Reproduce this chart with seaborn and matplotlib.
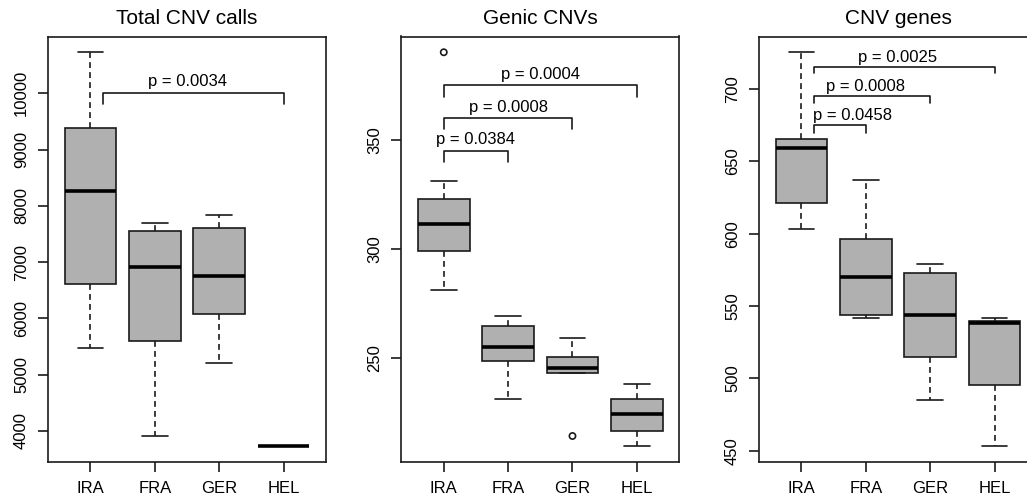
import numpy as np
import pandas as pd
import matplotlib
matplotlib.use("Agg")
import matplotlib.pyplot as plt
import seaborn as sns

# Box stats: [low whisker, Q1, median, Q3, high whisker]
groups = ["IRA", "FRA", "GER", "HEL"]

calls_ira = [5480, 6607, 8267, 9388, 10730]
calls_fra = [3915, 5593, 6915, 7550, 7687]
calls_ger = [5206, 6085, 6749, 7609, 7835]
calls_hel = [3728, 3728, 3728, 3728, 3728]

genic_ira = [281.1, 299.2, 311.4, 322.8, 331.2]
genic_fra = [231.0, 248.5, 255.0, 264.6, 269.2]
genic_ger = [243.2, 243.2, 245.4, 250.5, 259.0]
genic_hel = [209.4, 216.5, 224.1, 231.2, 238.2]
genic_out_groups = ["IRA", "GER"]
genic_out_values = [390.3, 214.1]

genes_ira = [603.4, 621.5, 659.1, 665.3, 725.3]
genes_fra = [541.7, 543.8, 570.0, 596.5, 637.2]
genes_ger = [484.8, 514.6, 543.8, 572.8, 579.0]
genes_hel = [453.2, 495.7, 538.3, 539.8, 541.6]

titles = ["Total CNV calls", "Genic CNVs", "CNV genes"]
yticks = [np.arange(4000, 10001, 1000), [250, 300, 350], np.arange(450, 701, 50)]

# p-value comparisons (IRA vs others)
p_calls = ["p = 0.0034"]
p_genic = ["p = 0.0384", "p = 0.0008", "p = 0.0004"]
p_genes = ["p = 0.0458", "p = 0.0008", "p = 0.0025"]

# bracket geometry: (x start, x end, top, leg bottom, text x, text baseline)
br_calls = [(0.2, 3, 10010, 9810, 1.5, 10130)]
br_genic = [(0, 1, 345.1, 340.0, 0.5, 348.0),
            (0, 2, 360.2, 355.0, 1.0, 362.9),
            (0, 3, 375.1, 369.9, 1.5, 377.9)]
br_genes = [(0.2, 1, 675.2, 669.8, 0.8, 678.6),
            (0.2, 2, 695.0, 690.1, 1.0, 698.6),
            (0.2, 3, 715.4, 710.8, 1.5, 718.6)]

sns.set_style("ticks")
plt.rcParams["font.family"] = ["Liberation Sans", "DejaVu Sans"]
plt.rcParams["text.color"] = "black"
plt.rcParams["xtick.color"] = "black"
plt.rcParams["ytick.color"] = "black"
plt.rcParams["xtick.labelcolor"] = "black"
plt.rcParams["ytick.labelcolor"] = "black"

W, H = 1027, 501
fig = plt.figure(figsize=(W / 100, H / 100), dpi=100)

# axes boxes in pixels: left, right (top/bottom shared)
px = [(48, 326), (401.3, 679.3), (759, 1037)]
top, bottom = 36.5, 462

panels = [
    ([calls_ira, calls_fra, calls_ger, calls_hel], [], [], p_calls, br_calls),
    ([genic_ira, genic_fra, genic_ger, genic_hel], genic_out_groups, genic_out_values, p_genic, br_genic),
    ([genes_ira, genes_fra, genes_ger, genes_hel], [], [], p_genes, br_genes),
]

line_col = "#1a1a1a"
lw = 1.2

for i, (vals, out_g, out_v, plabs, brs) in enumerate(panels):
    l, r = px[i]
    ax = fig.add_axes([l / W, 1 - bottom / H, (r - l) / W, (bottom - top) / H])
    df = pd.DataFrame({"group": np.repeat(groups, 5), "value": np.concatenate(vals)})
    sns.boxplot(data=df, x="group", y="value", order=groups, ax=ax,
                color="#b0b0b0", saturation=1, width=0.8, linecolor=line_col,
                linewidth=lw, showfliers=False,
                whiskerprops={"linestyle": (0, (3.5, 2.5))},
                medianprops={"linewidth": 2.6, "color": "black"})
    if out_v:
        sns.stripplot(x=out_g, y=out_v, order=groups, ax=ax, jitter=False,
                      color="black", facecolor="none", edgecolor=line_col,
                      linewidth=lw, size=4.5, marker="o")

    allv = np.concatenate(vals + [out_v]) if out_v else np.concatenate(vals)
    lo, hi = allv.min(), allv.max()
    pad = 0.04 * (hi - lo)
    ax.set_ylim(lo - pad, hi + pad)
    ax.set_xlim(-0.66, 3.66)
    ax.set_yticks(yticks[i])
    ax.set_xlabel("")
    ax.set_ylabel("")
    ax.set_title(titles[i], fontsize=15, pad=9, color="black")

    for (x0, x1, yh, yl, tx, ty), lab in zip(brs, plabs):
        ax.plot([x0, x0, x1, x1], [yl, yh, yh, yl], color=line_col, lw=lw)
        ax.text(tx, ty, lab, ha="center", va="baseline", fontsize=12)

    ax.tick_params(length=7.2, width=lw, pad=6.5, labelsize=12, color=line_col)
    ax.tick_params(axis="y", labelrotation=90)
    for lab in ax.get_yticklabels():
        lab.set_va("center")
    for s in ax.spines.values():
        s.set_linewidth(lw)
        s.set_color(line_col)

fig.savefig("out.png", dpi=100)
